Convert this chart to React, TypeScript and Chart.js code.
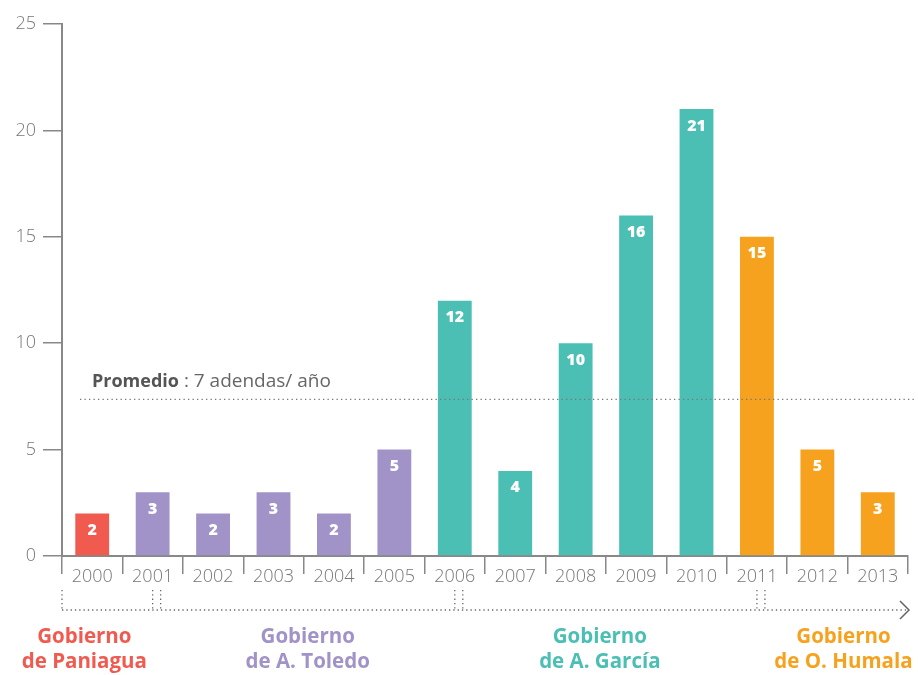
import React, { useEffect, useRef } from "react";
import { Chart, registerables } from "chart.js";

Chart.register(...registerables);

const years = ["2000","2001","2002","2003","2004","2005","2006","2007","2008","2009","2010","2011","2012","2013"];
const adendas = [2, 3, 2, 3, 2, 5, 12, 4, 10, 16, 21, 15, 5, 3];
const yearGov = [0, 1, 1, 1, 1, 1, 2, 2, 2, 2, 2, 3, 3, 3];
const govNames = [["Gobierno", "de Paniagua"], ["Gobierno", "de A. Toledo"], ["Gobierno", "de A. García"], ["Gobierno", "de O. Humala"]];
const govStartYear = [0, 1, 6, 11];
const govColors = ["#F05A4F", "#A193C8", "#4BBFB4", "#F7A21E"];
const yTicks = [0, 5, 10, 15, 20, 25];
const promedioLabel = ["Promedio", " : 7 adendas/ año"];

const FONT = "'Open Sans', 'Lato', sans-serif";

export default function App() {
  const ref = useRef<HTMLCanvasElement>(null);
  useEffect(() => {
    const canvas = ref.current!;
    const avg = adendas.reduce((a, b) => a + b, 0) / adendas.length;

    const overlay = {
      id: "overlay",
      afterDatasetsDraw(chart: any) {
        const ctx = chart.ctx;
        const x = chart.scales.x;
        const y = chart.scales.y;
        const meta = chart.getDatasetMeta(0);
        // value labels
        ctx.save();
        ctx.fillStyle = "#fff";
        ctx.font = `800 16px ${FONT}`;
        ctx.textAlign = "center";
        ctx.textBaseline = "middle";
        meta.data.forEach((bar: any, i: number) => {
          ctx.fillText(String(adendas[i]), bar.x, bar.y + 17);
        });
        ctx.restore();

        // average line
        const ay = y.getPixelForValue(avg);
        ctx.save();
        ctx.strokeStyle = "#777";
        ctx.lineWidth = 1.3;
        ctx.setLineDash([1.3, 3.2]);
        ctx.beginPath();
        ctx.moveTo(80, ay);
        ctx.lineTo(916, ay);
        ctx.stroke();
        ctx.setLineDash([]);
        ctx.textBaseline = "alphabetic";
        ctx.textAlign = "left";
        ctx.fillStyle = "#555";
        ctx.font = `bold 18px ${FONT}`;
        ctx.fillText(promedioLabel[0], 92, ay - 12);
        const w = ctx.measureText(promedioLabel[0]).width;
        ctx.fillStyle = "#666";
        ctx.font = `19px ${FONT}`;
        ctx.fillText(promedioLabel[1], 92 + w, ay - 12);
        ctx.restore();

        // government brackets
        const by = 610;
        const top = 590;
        ctx.save();
        ctx.strokeStyle = "#666";
        ctx.lineWidth = 1.3;
        ctx.setLineDash([1.3, 3]);
        ctx.beginPath();
        ctx.moveTo(x.left, by);
        ctx.lineTo(x.right - 2, by);
        ctx.moveTo(x.left, top);
        ctx.lineTo(x.left, by);
        for (let g = 1; g < govStartYear.length; g++) {
          const cx = x.getPixelForValue(govStartYear[g]);
          ctx.moveTo(cx, top);
          ctx.lineTo(cx, by);
          ctx.moveTo(cx + 8, top);
          ctx.lineTo(cx + 8, by);
        }
        ctx.stroke();
        ctx.setLineDash([]);
        ctx.strokeStyle = "#666";
        ctx.lineWidth = 1.5;
        ctx.beginPath();
        ctx.moveTo(x.right - 8, by - 9);
        ctx.lineTo(x.right + 1, by);
        ctx.lineTo(x.right - 8, by + 9);
        ctx.stroke();

        // government labels
        ctx.font = `bold 20.5px ${FONT}`;
        ctx.textAlign = "center";
        ctx.textBaseline = "middle";
        const shifts = [-25, 0, -10, 9];
        for (let g = 0; g < govNames.length; g++) {
          const s = g === 0 ? x.left : x.getPixelForValue(govStartYear[g]) + 4;
          const e = g + 1 < govStartYear.length ? x.getPixelForValue(govStartYear[g + 1]) + 4 : x.right;
          const cx = (s + e) / 2 + shifts[g];
          ctx.fillStyle = govColors[g];
          ctx.fillText(govNames[g][0], cx, 637);
          ctx.fillText(govNames[g][1], cx, 662);
        }
        ctx.restore();
      },
    };

    const chart = new Chart(canvas, {
      type: "bar",
      data: {
        labels: years,
        datasets: [
          {
            data: adendas,
            backgroundColor: yearGov.map((g) => govColors[g]),
            barPercentage: 0.56,
            categoryPercentage: 1,
          },
        ],
      },
      options: {
        animation: false,
        responsive: false,
        layout: { padding: { top: 24, right: 10, bottom: 0, left: 0 } },
        plugins: { legend: { display: false }, tooltip: { enabled: false } },
        scales: {
          x: {
            afterFit(scale: any) {
              scale.height = 119;
            },
            border: { color: "#888", width: 2 },
            grid: { offset: true, drawOnChartArea: false, drawTicks: true, tickLength: 18, color: "#888", lineWidth: 1.5 },
            ticks: { color: "#777", font: { family: FONT, size: 18, weight: "300" }, padding: -8, maxRotation: 0 },
          },
          y: {
            min: 0,
            max: 25,
            afterFit(scale: any) {
              scale.width = 62;
            },
            afterBuildTicks(scale: any) {
              scale.ticks = yTicks.map((v) => ({ value: v }));
            },
            border: { color: "#888", width: 2 },
            grid: { drawOnChartArea: false, drawTicks: true, tickLength: 19, color: "#888", lineWidth: 1.5 },
            ticks: { color: "#777", font: { family: FONT, size: 18, weight: "300" }, padding: 7 },
          },
        },
      },
      plugins: [overlay],
    });
    return () => chart.destroy();
  }, []);
  return (
    <div style={{ position: "fixed", left: 0, top: 0, width: 918, height: 675, background: "#fff" }}>
      <canvas ref={ref} width={918} height={675} style={{ width: 918, height: 675 }} />
    </div>
  );
}
